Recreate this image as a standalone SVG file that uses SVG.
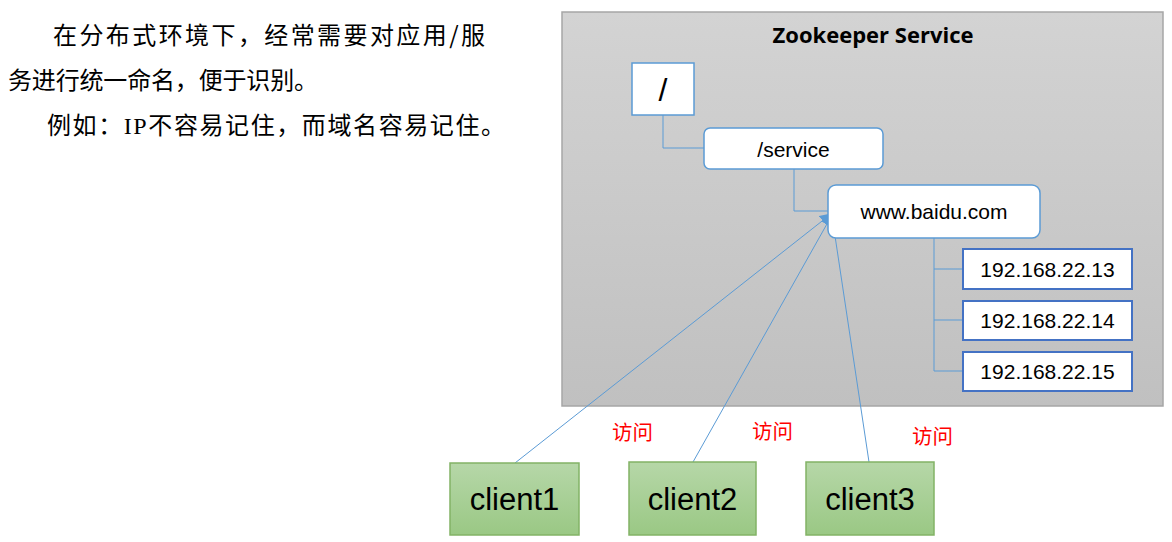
<svg xmlns="http://www.w3.org/2000/svg" width="1172" height="542" viewBox="0 0 1172 542">
<defs>
<linearGradient id="gGray" x1="0" y1="0" x2="0" y2="1"><stop offset="0" stop-color="#d3d3d3"/><stop offset="1" stop-color="#c0c0c0"/></linearGradient>
<linearGradient id="gGreen" x1="0" y1="0" x2="0" y2="1"><stop offset="0" stop-color="#b6d7a8"/><stop offset="1" stop-color="#9ac884"/></linearGradient>
<marker id="arr" viewBox="0 0 10 10" refX="9" refY="5" markerWidth="12" markerHeight="12" markerUnits="userSpaceOnUse" orient="auto"><path d="M0,0 L10,5 L0,10 z" fill="#5b9bd5"/></marker>
</defs>
<style>
.cjk{font-family:"Noto Sans CJK SC",sans-serif;font-size:24px;fill:#000}
.lbl{font-family:"Liberation Sans",Arial,sans-serif;fill:#000;text-anchor:middle}
.node{fill:#fff;stroke:#5b9bd5;stroke-width:1.5}
.ip{fill:#fff;stroke:#4472c4;stroke-width:2}
.client{fill:url(#gGreen);stroke:#82b366;stroke-width:1.5}
.red{font-family:"Noto Sans CJK SC",sans-serif;font-size:20.5px;fill:#ff0000}
.conn{fill:none;stroke:#5b9bd5;stroke-width:1}
</style>
<rect width="1172" height="542" fill="#fff"/>
<g id="intro">
<text class="cjk" x="53" y="44" textLength="432" lengthAdjust="spacing">在分布式环境下，经常需要对应用/服</text>
<text class="cjk" x="8" y="89" textLength="310" lengthAdjust="spacing">务进行统一命名，便于识别。</text>
<text class="cjk" x="47" y="134" textLength="458" lengthAdjust="spacing">例如：<tspan font-family="Liberation Serif">IP</tspan>不容易记住，而域名容易记住。</text>
</g>
<g id="zookeeper-service">
<rect x="562" y="12" width="601" height="394" fill="url(#gGray)" stroke="#a6a6a6" stroke-width="1.5"/>
<text x="873" y="43" font-family="'Open Sans','Liberation Sans',sans-serif" font-weight="bold" font-size="22" text-anchor="middle" fill="#000">Zookeeper Service</text>
</g>
<g id="connectors">
<polyline class="conn" points="663,115 663,148 704,148"/>
<polyline class="conn" points="794,169 794,211 828,211"/>
<polyline class="conn" points="934,238 934,371 963,371"/>
<line class="conn" x1="934" y1="269" x2="963" y2="269"/>
<line class="conn" x1="934" y1="320" x2="963" y2="320"/>
<line class="conn" x1="515" y1="463" x2="831" y2="214" marker-end="url(#arr)"/>
<line class="conn" x1="693" y1="462" x2="832" y2="215" marker-end="url(#arr)"/>
<line class="conn" x1="869" y1="462" x2="832" y2="216" marker-end="url(#arr)"/>
</g>
<g id="root"><rect class="node" x="632" y="63" width="62" height="52"/><text class="lbl" x="663" y="101" font-size="32">/</text></g>
<g id="service"><rect class="node" x="704" y="128" width="179" height="41" rx="6"/><text class="lbl" x="793.5" y="157" font-size="21">/service</text></g>
<g id="baidu"><rect class="node" x="828" y="185" width="212" height="53" rx="8"/><text class="lbl" x="934" y="219" font-size="21">www.baidu.com</text></g>
<g id="ip13"><rect class="ip" x="963" y="249" width="169" height="40"/><text class="lbl" x="1047.5" y="277" font-size="21">192.168.22.13</text></g>
<g id="ip14"><rect class="ip" x="963" y="301" width="169" height="39"/><text class="lbl" x="1047.5" y="328" font-size="21">192.168.22.14</text></g>
<g id="ip15"><rect class="ip" x="963" y="352" width="169" height="39"/><text class="lbl" x="1047.5" y="379" font-size="21">192.168.22.15</text></g>
<g id="client1"><rect class="client" x="450" y="463" width="129" height="72"/><text class="lbl" x="514.5" y="510" font-size="31">client1</text></g>
<g id="client2"><rect class="client" x="629" y="462" width="127" height="73"/><text class="lbl" x="692.5" y="510" font-size="31">client2</text></g>
<g id="client3"><rect class="client" x="806" y="462" width="128" height="73"/><text class="lbl" x="870" y="510" font-size="31">client3</text></g>
<g id="labels">
<text class="red" x="612" y="440">访问</text>
<text class="red" x="752" y="439">访问</text>
<text class="red" x="912" y="444">访问</text>
</g>
</svg>
